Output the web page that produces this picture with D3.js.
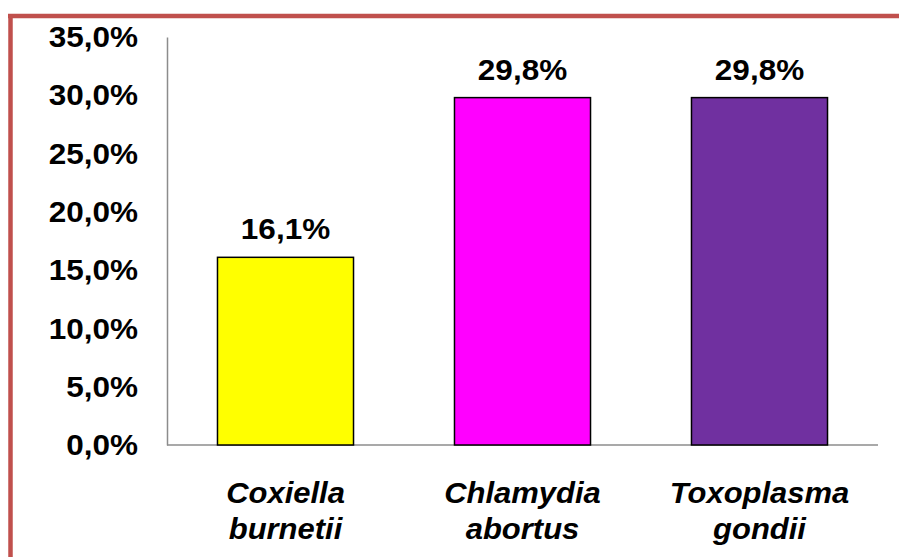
<!DOCTYPE html>
<html>
<head>
<meta charset="utf-8">
<script src="https://cdn.jsdelivr.net/npm/d3@7"></script>
<style>
  html, body { margin: 0; padding: 0; background: #fff; }
  svg { display: block; font-family: "Liberation Sans", Arial, sans-serif; }
</style>
</head>
<body>
<svg id="chart" width="899" height="557"></svg>
<script>
// Seroprevalence per pathogen (%)
const categories = [["Coxiella", "burnetii"], ["Chlamydia", "abortus"], ["Toxoplasma", "gondii"]];
const values = [16.1, 29.8, 29.8];
const colors = ["#FFFF00", "#FF00FF", "#7030A0"];
const yTicks = [0, 5, 10, 15, 20, 25, 30, 35];

const svg = d3.select("#chart");
const W = 899, H = 557;
const plot = { left: 167, right: 878, top: 37, bottom: 445 };
const stretch = 1.05; // slightly wide lettering

const fmt = v => v.toFixed(1).replace(".", ",") + "%";

// Frame lines along the top and left edges
svg.append("line").attr("x1", 8).attr("x2", W).attr("y1", 16).attr("y2", 16)
  .attr("stroke", "#C0504D").attr("stroke-width", 4.5);
svg.append("line").attr("x1", 10.5).attr("x2", 10.5).attr("y1", 14).attr("y2", H)
  .attr("stroke", "#C0504D").attr("stroke-width", 4.5);

const x = d3.scaleBand()
  .domain(categories.map((d, i) => i))
  .range([plot.left, plot.right])
  .paddingInner(0.426).paddingOuter(0.213);

const y = d3.scaleLinear().domain([0, 35]).range([plot.bottom, plot.top]);

// Y axis
const yAxis = d3.axisLeft(y).tickValues(yTicks).tickFormat(fmt).tickSize(0).tickPadding(29 / stretch);
const gy = svg.append("g").attr("transform", `translate(${plot.left},0)`).call(yAxis);
gy.select(".domain").attr("stroke", "#8C8C8C").attr("stroke-width", 1.5);
gy.selectAll("text").attr("font-size", 30).attr("font-weight", "bold").attr("fill", "#000")
  .attr("font-family", "Liberation Sans, Arial, sans-serif")
  .attr("transform", `scale(${stretch},1)`);

// X axis baseline
svg.append("line").attr("x1", plot.left).attr("x2", plot.right)
  .attr("y1", y(0)).attr("y2", y(0)).attr("stroke", "#8C8C8C").attr("stroke-width", 1.5);

// Bars
svg.selectAll("rect.bar").data(values).enter().append("rect")
  .attr("class", "bar")
  .attr("x", (d, i) => x(i))
  .attr("width", x.bandwidth())
  .attr("y", d => y(d))
  .attr("height", d => y(0) - y(d))
  .attr("fill", (d, i) => colors[i])
  .attr("stroke", "#000").attr("stroke-width", 1.5);

// Value labels
svg.selectAll("text.val").data(values).enter().append("text")
  .attr("class", "val")
  .attr("transform", (d, i) => `translate(${x(i) + x.bandwidth() / 2},${y(d) - 18}) scale(${stretch},1)`)
  .attr("text-anchor", "middle")
  .attr("font-size", 30).attr("font-weight", "bold").attr("fill", "#000")
  .text(d => fmt(d));

// Category labels (two lines, italic)
const cat = svg.selectAll("text.cat").data(categories).enter().append("text")
  .attr("class", "cat")
  .attr("transform", (d, i) => `translate(${x(i) + x.bandwidth() / 2},503) scale(${stretch},1)`)
  .attr("text-anchor", "middle")
  .attr("font-size", 29.5).attr("font-weight", "bold").attr("font-style", "italic").attr("fill", "#000");
cat.each(function (d) {
  const t = d3.select(this);
  d.forEach((line, k) => {
    t.append("tspan").attr("x", 0).attr("y", k * 36).text(line);
  });
});
</script>
</body>
</html>
